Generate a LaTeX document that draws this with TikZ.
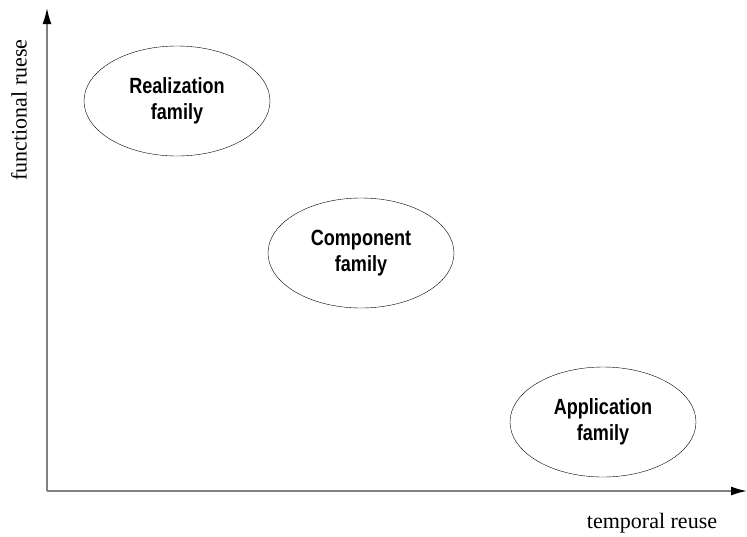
\documentclass[tikz,border=0pt]{standalone}
\usepackage{fontspec}
\setmainfont{Liberation Serif}
\newfontfamily\famfont[FakeStretch=0.82]{Liberation Sans}
\usetikzlibrary{shapes.geometric,arrows.meta}

\begin{document}
\begin{tikzpicture}
        [x=1pt, y=-1pt,
        family/.style={ellipse, draw, thin, minimum width=186pt, minimum height=110pt,
                inner sep=0pt, align=center, font=\famfont\fontsize{22}{26}\bfseries\selectfont},
        axis/.style={draw=black!50, line width=1.6pt,
                -{Latex[length=16pt, width=9pt, color=black]}},
        axislabel/.style={font=\fontsize{22}{26}\selectfont}]

        \useasboundingbox (0,0) rectangle (747,536);

        % axes
        \coordinate (o) at (47,491);
        \coordinate (ytip) at (47,8);
        \coordinate (xtip) at (747,491);
        \draw[axis] (o) -- (ytip);
        \draw[axis] (o) -- (xtip);

        % Labels for the axes
        \node[axislabel, rotate=90] (fr) at (19,110) {functional ruese};
        \node[axislabel] (tr) at (652,523) {temporal reuse};

        % the three families
        \node[family] (real) at (177,101) {Realization\\family};
        \node[family] (comp) at (361,253) {Component\\family};
        \node[family] (appl) at (603,422) {Application\\family};

    \end{tikzpicture}
\end{document}
